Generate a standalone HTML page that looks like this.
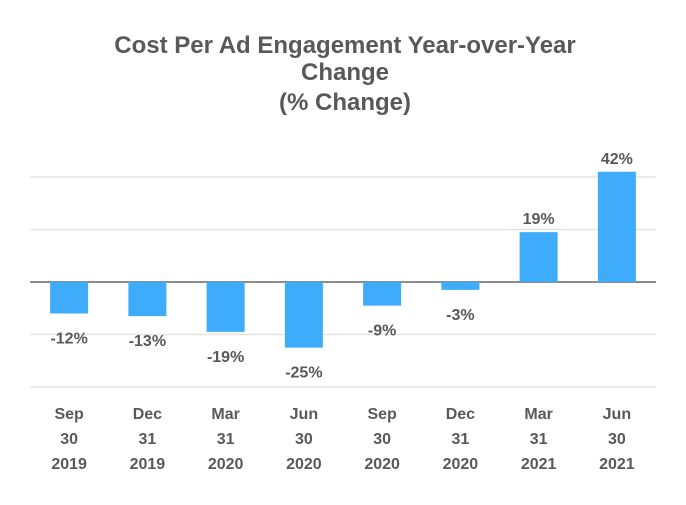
<!DOCTYPE html>
<html><head><meta charset="utf-8"><style>
body{margin:0;background:#fff;font-family:"Liberation Sans",Arial,sans-serif}
</style></head><body>
<svg id="chart" width="686" height="500" xmlns="http://www.w3.org/2000/svg">
<g font-size="24" font-weight="bold" fill="#595959" text-anchor="middle">
<text x="345" y="53">Cost Per Ad Engagement Year-over-Year</text>
<text x="345" y="80">Change</text>
<text x="345" y="110">(% Change)</text>
</g>
<g id="grid"></g>
<g id="bars"></g>
<g id="labels"></g>
<g id="xaxis"></g>
</svg>
<script>
const categories=[["Sep","30","2019"],["Dec","31","2019"],["Mar","31","2020"],["Jun","30","2020"],["Sep","30","2020"],["Dec","31","2020"],["Mar","31","2021"],["Jun","30","2021"]];
const values=[-12,-13,-19,-25,-9,-3,19,42];
const valueLabels=["-12%","-13%","-19%","-25%","-9%","-3%","19%","42%"];
const gridValues=[40,20,0,-20,-40];
const NS="http://www.w3.org/2000/svg";
const left=30,right=656,zeroY=282,perUnit=2.625;
const y=v=>zeroY-v*perUnit;
const step=(right-left)/categories.length;
const xc=i=>left+step*(i+0.5);
function mk(tag,attrs,parent){const e=document.createElementNS(NS,tag);for(const k in attrs)e.setAttribute(k,attrs[k]);document.getElementById(parent).appendChild(e);return e;}
gridValues.forEach(g=>{
 const l=mk('line',{x1:left,x2:right,y1:y(g),y2:y(g),stroke:g===0?'#666':'#e3e3e3','stroke-width':1.5},'grid');
 
 
});
const bw=38;
values.forEach((v,i)=>{
 const r=mk('rect',{x:xc(i)-bw/2,y:Math.min(y(v),zeroY),width:bw,height:Math.abs(y(v)-zeroY),fill:'#3eacfa'},'bars');
 
 
 const t=mk('text',{x:xc(i),y:v>=0?y(v)-8:y(v)+30,'text-anchor':'middle','font-size':'16','font-weight':'bold',fill:'#595959'},'labels');
 t.textContent=valueLabels[i];
 
 
 categories[i].forEach((s,j)=>{
  const c=mk('text',{x:xc(i),y:419+j*25,'text-anchor':'middle','font-size':'16','font-weight':'bold',fill:'#595959'},'xaxis');
  c.textContent=s;
  
  
 });
});
</script>
</body></html>
